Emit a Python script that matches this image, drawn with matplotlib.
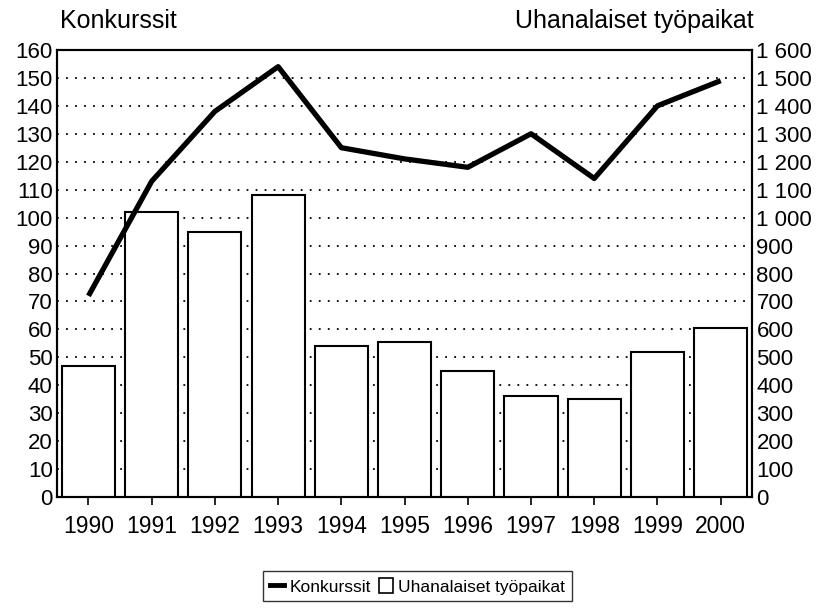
import matplotlib
matplotlib.use("Agg")
import matplotlib.pyplot as plt
from matplotlib.lines import Line2D
from matplotlib.patches import Patch

plt.rcParams['font.family'] = ['Liberation Sans', 'DejaVu Sans']

years = ['1990', '1991', '1992', '1993', '1994', '1995', '1996', '1997', '1998', '1999', '2000']
# bankruptcies (left axis)
konkurssit = [72, 113, 138, 154, 125, 121, 118, 130, 114, 140, 149]
# jobs at risk (right axis)
tyopaikat = [470, 1020, 950, 1080, 540, 555, 450, 360, 350, 520, 605]

left_ticks = list(range(0, 161, 10))
right_ticks = list(range(0, 1601, 100))
right_labels = ['{:,}'.format(v).replace(',', ' ') for v in right_ticks]

fig = plt.figure(figsize=(8.24, 6.16), dpi=100)
ax = fig.add_axes([0.069, 0.193, 0.844, 0.726])
ax2 = ax.twinx()

x = list(range(len(years)))

# bars go on the right axis, but should sit under the line
ax2.set_zorder(1)
ax.set_zorder(2)
ax.patch.set_visible(False)

ax2.bar(x, tyopaikat, width=0.84, color='white', edgecolor='black', linewidth=1.5, zorder=3)
for v in left_ticks[1:-1]:
    ax2.axhline(v * 10, color='black', linestyle=(0, (1, 4)), linewidth=1.3, zorder=1)

ax.plot(x, konkurssit, color='black', linewidth=3.8, solid_capstyle='butt')

ax.set_xlim(-0.5, len(years) - 0.5)
ax.set_ylim(0, 160)
ax2.set_ylim(0, 1600)

ax.set_yticks(left_ticks)
ax2.set_yticks(right_ticks)
ax2.set_yticklabels(right_labels)
ax.set_xticks(x)
ax.set_xticklabels(years)

ax.tick_params(axis='y', labelsize=16, length=0, pad=3)
ax2.tick_params(axis='y', labelsize=16, length=0, pad=3)
ax.tick_params(axis='x', labelsize=16.5, length=6, width=1.2, direction='out', pad=7)

for a in (ax, ax2):
    for s in a.spines.values():
        s.set_linewidth(1.5)

fig.text(0.073, 0.966, 'Konkurssit', fontsize=18, ha='left', va='center')
fig.text(0.914, 0.966, 'Uhanalaiset työpaikat', fontsize=18, ha='right', va='center')

handles = [Line2D([0], [0], color='black', linewidth=3.5),
           Patch(facecolor='white', edgecolor='black', linewidth=1.2)]
fig.legend(handles, ['Konkurssit', 'Uhanalaiset työpaikat'], loc='center',
           bbox_to_anchor=(0.507, 0.048), ncol=2, fontsize=12.5, frameon=True,
           fancybox=False, edgecolor='black', handlelength=0.8, handleheight=0.9,
           handletextpad=0.3, columnspacing=0.5, borderpad=0.4, borderaxespad=0)

fig.savefig('out.png', dpi=100)
